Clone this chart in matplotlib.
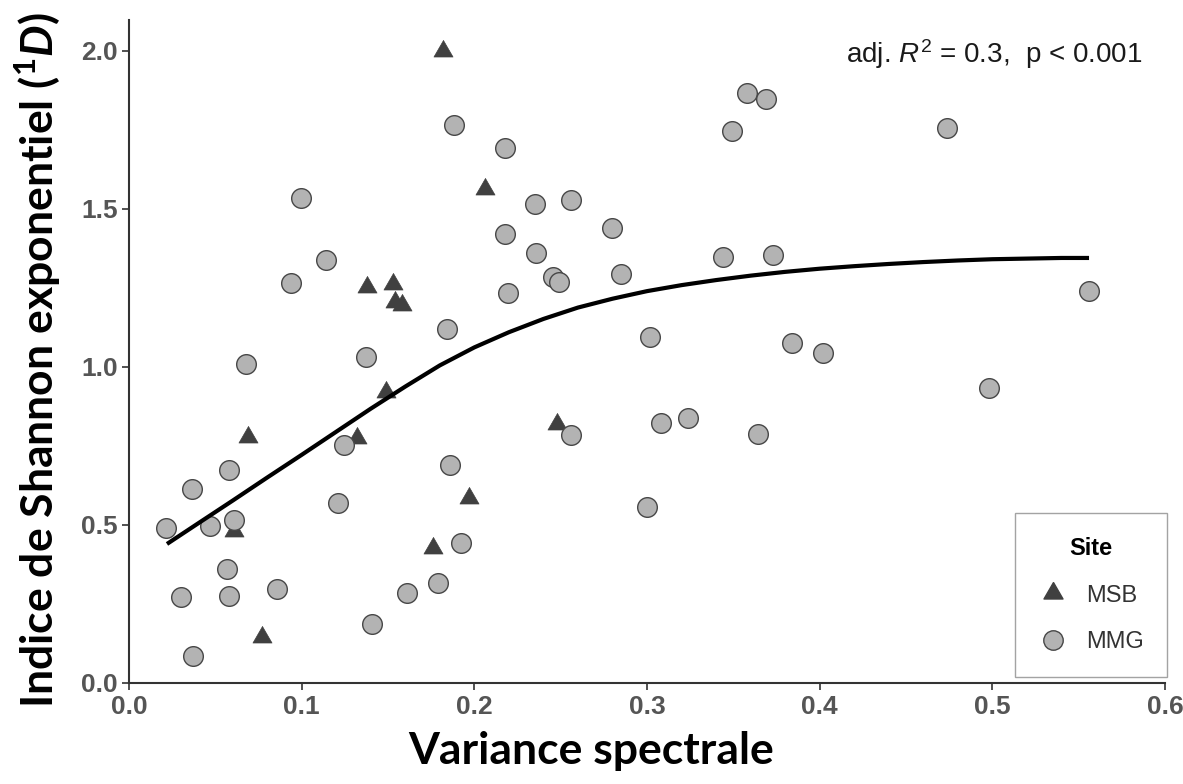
import numpy as np
import matplotlib
matplotlib.use("Agg")
import matplotlib.pyplot as plt
from matplotlib.lines import Line2D

# === Data ===
# Site MSB (triangles)
msb_x = [0.182, 0.206, 0.138, 0.153, 0.154, 0.158, 0.149, 0.132, 0.069,
         0.061, 0.077, 0.176, 0.197, 0.248]
msb_y = [2.000, 1.563, 1.253, 1.263, 1.206, 1.196, 0.921, 0.775, 0.778,
         0.480, 0.146, 0.427, 0.585, 0.819]

# Site MMG (circles)
mmg_x = [0.0996, 0.114, 0.094, 0.068, 0.137,
         0.188, 0.218, 0.235, 0.256, 0.218, 0.236, 0.280, 0.2455, 0.249,
         0.2195, 0.285, 0.184, 0.302, 0.344, 0.373, 0.358, 0.369, 0.349,
         0.474, 0.556, 0.384, 0.402, 0.498,
         0.0214, 0.0365, 0.058, 0.047, 0.061, 0.057, 0.030, 0.058, 0.086,
         0.037, 0.1245, 0.121, 0.141, 0.161,
         0.186, 0.192, 0.179, 0.256, 0.308, 0.324, 0.364, 0.300]
mmg_y = [1.535, 1.339, 1.266, 1.008, 1.033,
         1.766, 1.693, 1.516, 1.528, 1.421, 1.362, 1.440, 1.285, 1.269,
         1.234, 1.294, 1.120, 1.095, 1.348, 1.355, 1.867, 1.848, 1.747,
         1.756, 1.241, 1.076, 1.045, 0.933,
         0.489, 0.614, 0.674, 0.497, 0.516, 0.361, 0.272, 0.275, 0.297,
         0.085, 0.753, 0.570, 0.187, 0.284,
         0.690, 0.443, 0.316, 0.785, 0.823, 0.838, 0.788, 0.557]

# fitted curve, sampled from the figure
curve_x = [0.022, 0.04, 0.06, 0.08, 0.10, 0.12, 0.14, 0.16, 0.18, 0.20,
           0.22, 0.24, 0.26, 0.28, 0.30, 0.32, 0.34, 0.36, 0.38, 0.40,
           0.42, 0.44, 0.46, 0.48, 0.50, 0.52, 0.54, 0.556]
curve_y = [0.44, 0.505, 0.577, 0.65, 0.722, 0.795, 0.868, 0.938, 1.005,
           1.062, 1.11, 1.152, 1.188, 1.216, 1.24, 1.259, 1.275, 1.289,
           1.301, 1.311, 1.319, 1.326, 1.332, 1.337, 1.341, 1.343, 1.345,
           1.345]

x_ticks = [0.0, 0.1, 0.2, 0.3, 0.4, 0.5, 0.6]
y_ticks = [0.0, 0.5, 1.0, 1.5, 2.0]
site_labels = ["MSB", "MMG"]

# === Fonts ===
plt.rcParams["font.family"] = ["Liberation Sans", "DejaVu Sans"]
plt.rcParams["mathtext.fontset"] = "custom"
plt.rcParams["mathtext.rm"] = "Liberation Sans"
plt.rcParams["mathtext.it"] = "Liberation Sans:italic"
plt.rcParams["mathtext.bf"] = "Lato:bold"
plt.rcParams["mathtext.bfit"] = "Lato:italic:bold"

# === Figure / axes ===
fig = plt.figure(figsize=(11.83, 7.84), dpi=100)
ax = fig.add_axes([129 / 1183, 1 - 683 / 784, (1165 - 129) / 1183, (683 - 20) / 784])

# equilateral triangle like ggplot shape 17
tri = [(0, 0.577), (-0.5, -0.289), (0.5, -0.289), (0, 0.577)]

ax.scatter(msb_x, msb_y, marker=tri, s=250, color="#404040",
           edgecolor="#404040", linewidth=0.5, zorder=2, label=site_labels[0])
ax.scatter(mmg_x, mmg_y, marker="o", s=200, color="#b3b3b3",
           edgecolor="#474747", linewidth=1.0, zorder=3, label=site_labels[1])
ax.plot(curve_x, curve_y, color="black", linewidth=3, zorder=4,
        solid_capstyle="butt", solid_joinstyle="round")

# === Axes style ===
ax.set_xlim(0, 0.6)
ax.set_ylim(0, 2.098)
ax.set_xticks(x_ticks)
ax.set_yticks(y_ticks)
ax.set_xticklabels([f"{v:.1f}" for v in x_ticks])
ax.set_yticklabels([f"{v:.1f}" for v in y_ticks])
for side in ["top", "right"]:
    ax.spines[side].set_visible(False)
for side in ["left", "bottom"]:
    ax.spines[side].set_linewidth(1.5)
    ax.spines[side].set_color("#333333")
ax.tick_params(axis="both", length=5, width=1.2, color="#333333",
               labelcolor="#555555", labelsize=19)
ax.tick_params(axis="x", pad=4)
ax.tick_params(axis="y", pad=3)
for lab in ax.get_xticklabels() + ax.get_yticklabels():
    lab.set_fontweight("bold")

# annotation
ax.text(0.5866, 1.962, r"adj. $R^2$ = 0.3,  p < 0.001", ha="right",
        va="baseline", fontsize=20, color="#1a1a1a")

# === Legend ===
handles = [
    Line2D([], [], marker=tri, linestyle="none", markersize=15.8,
           markerfacecolor="#404040", markeredgecolor="#404040"),
    Line2D([], [], marker="o", linestyle="none", markersize=14,
           markerfacecolor="#b3b3b3", markeredgecolor="#474747"),
]
leg = ax.legend(handles, site_labels, title="Site", loc="lower right",
                bbox_to_anchor=(1.002, 0.009), fontsize=17,
                title_fontproperties={"weight": "bold", "size": 17},
                frameon=True, fancybox=False, borderpad=1.0,
                labelspacing=1.05, handletextpad=0.8, handlelength=1.2,
                borderaxespad=0)
leg.get_frame().set_edgecolor("#8c8c8c")
leg.get_frame().set_linewidth(1.0)
for t in leg.get_texts():
    t.set_color("#333333")

# === Axis titles ===
fig.text(0.032, 1 - 360 / 784,
         r"Indice de Shannon exponentiel ($^{\mathbf{1}}\mathbfit{D}$)",
         rotation=90, ha="center", va="center", fontsize=32,
         fontweight="bold", family=["Lato", "DejaVu Sans"])
fig.text(591 / 1183, 1 - 764 / 784, "Variance spectrale", ha="center",
         va="baseline", fontsize=32, fontweight="bold",
         family=["Lato", "DejaVu Sans"])

fig.savefig("out.png", dpi=100)
